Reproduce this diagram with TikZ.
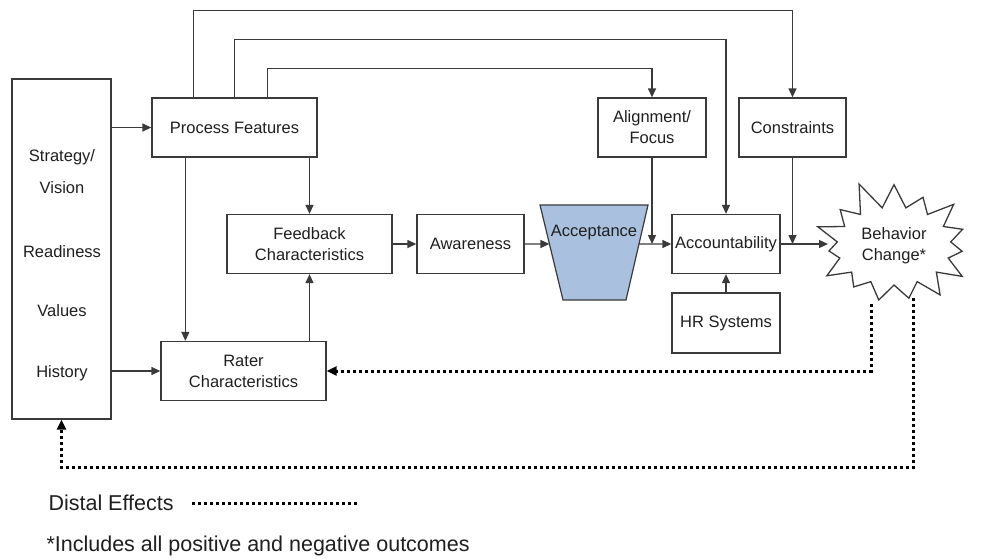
\documentclass[tikz,border=0pt]{standalone}
\usepackage{fontspec}
\setmainfont{Liberation Sans}
\usepackage{xcolor}
\usetikzlibrary{shapes.symbols, arrows.meta, positioning, calc}
\definecolor{lineg}{HTML}{3A3A3A}
\definecolor{accfill}{HTML}{A9C0DE}

\begin{document}
\begin{tikzpicture}[
  x=1pt, y=-1pt,
  every node/.style={font=\fontsize{16.5}{21}\selectfont, text=black!88},
  block/.style={rectangle, draw=lineg, line width=1.3pt, align=center, inner sep=2pt},
  wbox/.style={block, minimum width=165pt, minimum height=59pt},
  sbox/.style={block, minimum width=108pt, minimum height=59pt},
  arrow/.style={-{Triangle[length=9pt, width=8pt]}, draw=lineg, line width=1.3pt},
  distal/.style={draw=black, line width=3pt, dash pattern=on 3pt off 3pt},
  darrow/.style={distal, -{Triangle[length=10pt, width=9pt]}},
  burst/.style={starburst, draw=lineg, line width=1.3pt, align=center,
    starburst points=15, starburst point height=30pt, random starburst=11,
    minimum width=174pt, minimum height=138pt}
]
\useasboundingbox (0,0) rectangle (981,558);

% context box on the left
\node[block, minimum width=99pt, minimum height=340pt] (ctx) at (61.5,249) {};
\node (strat) at (62,157) {Strategy/};
\node (vis) at (62,188) {Vision};
\node (ready) at (62,252) {Readiness};
\node (val) at (62,311) {Values};
\node (hist) at (62,373) {History};

\node[wbox] (pf) at (234.5,127.5) {Process Features};
\node[wbox] (fc) at (309.5,244) {Feedback\\Characteristics};
\node[wbox] (rater) at (243.5,371) {Rater\\Characteristics};
\node[sbox, minimum width=107pt] (aw) at (470.5,244) {Awareness};
\node[sbox] (align) at (652,127.5) {Alignment/\\Focus};
\node[sbox, minimum width=107pt] (cons) at (792.5,127.5) {Constraints};
\node[sbox] (acct) at (726,244) {Accountability};
\node[sbox, minimum height=60pt] (hr) at (726,323) {HR Systems};
\node[burst] (beh) at (894,246) {Behavior\\Change*};

% acceptance funnel
\coordinate (tl) at (540,205);
\coordinate (tr) at (648,205);
\coordinate (br) at (626,300);
\coordinate (bl) at (563,300);
\draw[lineg, line width=1.2pt, fill=accfill] (tl) -- (tr) -- (br) -- (bl) -- cycle;
\node (accept) at (594,233) {Acceptance};
\coordinate (accL) at ($(tl)!0.41!(bl)$);
\coordinate (accR) at ($(tr)!0.41!(br)$);
\coordinate (behin) at (828,244);

\draw[arrow] (ctx.east |- pf) -- (pf.west);
\draw[arrow] (ctx.east |- rater) -- (rater.west);
\draw[arrow] ([xshift=34pt]pf.south west) -- ([xshift=34pt]pf.south west |- rater.north);
\draw[arrow] (pf.south -| fc.north) -- (fc.north);
\draw[arrow] (rater.north -| fc.south) -- (fc.south);
\draw[arrow] (fc) -- (aw);
\draw[arrow] (aw.east) -- (accL);
\draw[arrow] (accR) -- (acct.west);
\draw[arrow] (align.south) -- (align.south |- acct.west);
\draw[arrow] (cons.south) -- (cons.south |- behin);
\draw[arrow] (acct.east) -- (behin);
\draw[arrow] (hr) -- (acct);

% long lines over the top
\draw[arrow] ([xshift=42pt]pf.north west) |- ([yshift=87pt]cons.north) -- (cons.north);
\draw[arrow] ([xshift=83pt]pf.north west) |- ([yshift=58pt]cons.north -| acct.north) -- (acct.north);
\draw[arrow] ([xshift=116pt]pf.north west) |- ([yshift=29pt]align.north) -- (align.north);

% distal effects
\coordinate (d1) at (871,304);
\coordinate (d2) at (913,298);
\draw[darrow] (d1) |- (rater.east);
\draw[darrow] (d2) |- ([yshift=-48pt]ctx.south) -- (ctx.south);

\node[anchor=west, font=\fontsize{21.5}{25}\selectfont] (dist) at (45,503) {Distal Effects};
\draw[distal] ([xshift=15pt]dist.east) -- ++(166,0);
\node[anchor=west, font=\fontsize{21.5}{25}\selectfont] (note) at (43,546) {*Includes all positive and negative outcomes};
\end{tikzpicture}
\end{document}
